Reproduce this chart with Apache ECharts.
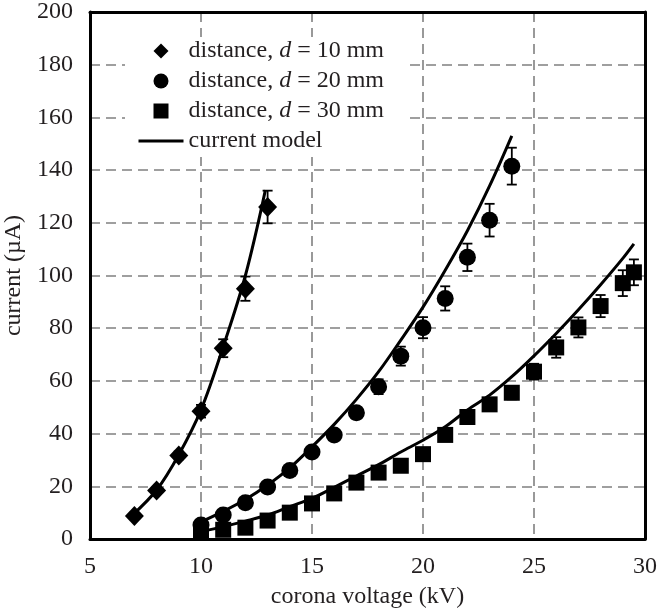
<!DOCTYPE html>
<html>
<head>
<meta charset="utf-8">
<title>corona current</title>
<script src="https://cdn.jsdelivr.net/npm/echarts@6/dist/echarts.min.js"></script>
<style>
  html, body { margin: 0; padding: 0; background: #fff; }
  #chart { width: 657px; height: 609px; }
</style>
</head>
<body>
<div id="chart"></div>
<script>
// measured points, voltage in kV, current in uA
const d10Volt = [7, 8, 9, 10, 11, 12, 13]
const d10Curr = [8.7, 18.4, 31.7, 48.5, 72.4, 95, 126]
const d10Err = [1, 1.2, 1.5, 2.4, 3.4, 4.6, 6.2]

const d20Volt = [10, 11, 12, 13, 14, 15, 16, 17, 18, 19, 20, 21, 22, 23, 24]
const d20Curr = [5.3, 9.1, 13.8, 19.7, 26, 33, 39.5, 47.9, 57.8, 69.4, 80.2, 91.3, 106.9, 121, 141.5]
const d20Err = [1, 1, 1, 1.2, 1.4, 1.6, 1.8, 2.2, 2.8, 3.6, 4, 4.6, 5.2, 6.2, 7]

const d30Volt = [10, 11, 12, 13, 14, 15, 16, 17, 18, 19, 20, 21, 22, 23, 24, 25, 26, 27, 28, 29, 29.5]
const d30Curr = [2.8, 3.5, 4.3, 7, 10, 13.5, 17.3, 21.4, 25.2, 27.8, 32.2, 39.5, 46.3, 51.1, 55.5, 63.5, 72.7, 80.3, 88.4, 97.1, 101.2]
const d30Err = [0.8, 0.8, 0.8, 0.9, 1, 1, 1.1, 1.2, 1.3, 1.4, 1.5, 1.8, 2, 2.2, 2.5, 3, 3.9, 3.8, 4.2, 4.9, 4.9]

// current model curves
const d10Model = [[6.9, 9], [8, 18.6], [9, 32], [10, 49], [11, 73], [12, 100], [12.9, 132.4]]
const d20Model = [[10, 6.5], [11, 10.5], [12, 15], [13, 20.5], [14, 27], [15, 35], [16, 43.5], [17, 53], [18, 63.5], [19, 75.5], [20, 88], [21, 102], [22, 117], [23, 134], [24, 153]]
const d30Model = [[10, 2.8], [11, 4.7], [12, 6.8], [13, 9.1], [14, 12.3], [15, 15.4], [16, 19.6], [17, 23.9], [18, 28.2], [19, 33], [20, 37.5], [21, 42.6], [22, 49], [23, 54.6], [24, 61.6], [25, 69.5], [26, 78], [27, 87], [28, 96.5], [29, 106.5], [29.5, 112]]

const xTicks = [5, 10, 15, 20, 25, 30]
const yTicks = [0, 20, 40, 60, 80, 100, 120, 140, 160, 180, 200]

const legendNames = ['distance, d = 10 mm', 'distance, d = 20 mm', 'distance, d = 30 mm', 'current model']

const FONT = '"Liberation Serif", "DejaVu Serif", serif'
const TEXT = '#231f20'

function pairs(xs, ys) {
  return xs.map((x, i) => [x, ys[i]])
}
function errRows(xs, ys, es) {
  return xs.map((x, i) => [x, ys[i] - es[i], ys[i] + es[i]])
}

// vertical error bar with caps
function renderErr(params, api) {
  const top = api.coord([api.value(0), api.value(2)])
  const bot = api.coord([api.value(0), api.value(1)])
  const half = 5
  const style = { stroke: '#000', lineWidth: 1.8 }
  return {
    type: 'group',
    children: [
      { type: 'line', shape: { x1: top[0], y1: top[1], x2: bot[0], y2: bot[1] }, style: style },
      { type: 'line', shape: { x1: top[0] - half, y1: top[1], x2: top[0] + half, y2: top[1] }, style: style },
      { type: 'line', shape: { x1: bot[0] - half, y1: bot[1], x2: bot[0] + half, y2: bot[1] }, style: style }
    ]
  }
}

function modelLine(data) {
  return {
    name: 'current model',
    type: 'line',
    data: data,
    symbol: 'none',
    smooth: 0.35,
    lineStyle: { color: '#000', width: 3 },
    itemStyle: { color: '#000' },
    z: 3
  }
}

function errSeries(rows) {
  return {
    type: 'custom',
    renderItem: renderErr,
    data: rows,
    encode: { x: 0, y: [1, 2] },
    silent: true,
    z: 4
  }
}

const chart = echarts.init(document.getElementById('chart'), null, { renderer: 'canvas' })

const axisCommon = {
  axisTick: { show: false },
  splitLine: {
    show: true,
    showMinLine: false,
    showMaxLine: false,
    lineStyle: { color: '#808080', width: 1.6, type: [10, 6] }
  }
}

// path icons so the legend keeps them square
const DIAMOND_ICON = 'path://M10,0L20,10L10,20L0,10Z'
const SQUARE_ICON = 'path://M1.5,1.5H18.5V18.5H1.5Z'

chart.setOption({
  animation: false,
  backgroundColor: '#fff',
  grid: {
    left: 90,
    right: 12,
    top: 12,
    bottom: 70,
    containLabel: false,
    outerBoundsMode: 'none'
  },
  legend: {
    data: [
      { name: legendNames[0], icon: DIAMOND_ICON },
      { name: legendNames[1], icon: 'circle' },
      { name: legendNames[2], icon: SQUARE_ICON },
      { name: legendNames[3], itemStyle: { opacity: 0 }, lineStyle: { width: 3, color: '#000' } }
    ],
    orient: 'vertical',
    left: 125,
    top: 37,
    itemWidth: 45,
    itemHeight: 15,
    itemGap: 6,
    symbolKeepAspect: true,
    padding: [2, 22, 4, 12],
    backgroundColor: '#fff',
    selectedMode: false,
    formatter: function(name) {
      const k = name.indexOf(' d ')
      if (k < 0) return '{n|' + name + '}'
      return '{n|' + name.slice(0, k + 1) + '}{i|d}{n|' + name.slice(k + 2) + '}'
    },
    textStyle: {
      fontFamily: FONT,
      fontSize: 24,
      color: TEXT,
      rich: {
        n: { fontFamily: FONT, fontSize: 24, color: TEXT, lineHeight: 24 },
        i: { fontFamily: FONT, fontSize: 24, color: TEXT, fontStyle: 'italic', lineHeight: 24 }
      }
    }
  },
  xAxis: [
    Object.assign({}, axisCommon, {
      type: 'value',
      min: xTicks[0],
      max: xTicks[xTicks.length - 1],
      interval: 5,
      name: 'corona voltage (kV)',
      nameLocation: 'middle',
      nameGap: 46,
      nameTextStyle: { fontFamily: FONT, fontSize: 24, color: TEXT },
      axisLine: { show: true, lineStyle: { color: '#000', width: 3 } },
      axisLabel: { fontFamily: FONT, fontSize: 24, color: TEXT, margin: 16, showMinLabel: true, showMaxLabel: true, hideOverlap: false }
    }),
    {
      type: 'value',
      position: 'top',
      min: xTicks[0],
      max: xTicks[xTicks.length - 1],
      interval: 5,
      axisLine: { show: true, onZero: false, lineStyle: { color: '#000', width: 3 } },
      axisTick: { show: false },
      axisLabel: { show: false },
      splitLine: { show: false }
    }
  ],
  yAxis: [
    Object.assign({}, axisCommon, {
      type: 'value',
      min: yTicks[0],
      max: yTicks[yTicks.length - 1],
      interval: 20,
      name: 'current (µA)',
      nameLocation: 'middle',
      nameGap: 64,
      nameTextStyle: { fontFamily: FONT, fontSize: 24, color: TEXT },
      axisLine: { show: true, lineStyle: { color: '#000', width: 3 } },
      axisLabel: { fontFamily: FONT, fontSize: 24, color: TEXT, margin: 17, showMinLabel: true, showMaxLabel: true, hideOverlap: false }
    }),
    {
      type: 'value',
      position: 'right',
      min: yTicks[0],
      max: yTicks[yTicks.length - 1],
      interval: 20,
      axisLine: { show: true, onZero: false, lineStyle: { color: '#000', width: 3 } },
      axisTick: { show: false },
      axisLabel: { show: false },
      splitLine: { show: false }
    }
  ],
  series: [
    modelLine(d10Model),
    modelLine(d20Model),
    modelLine(d30Model),
    errSeries(errRows(d10Volt, d10Curr, d10Err)),
    errSeries(errRows(d20Volt, d20Curr, d20Err)),
    errSeries(errRows(d30Volt, d30Curr, d30Err)),
    {
      name: legendNames[0],
      type: 'scatter',
      symbol: 'diamond',
      symbolSize: [19, 20],
      itemStyle: { color: '#000', opacity: 1 },
      data: pairs(d10Volt, d10Curr),
      z: 5
    },
    {
      name: legendNames[1],
      type: 'scatter',
      symbol: 'circle',
      symbolSize: 17,
      itemStyle: { color: '#000', opacity: 1 },
      data: pairs(d20Volt, d20Curr),
      z: 5
    },
    {
      name: legendNames[2],
      type: 'scatter',
      symbol: 'rect',
      symbolSize: 16,
      itemStyle: { color: '#000', opacity: 1 },
      data: pairs(d30Volt, d30Curr),
      z: 5
    }
  ]
})
</script>
</body>
</html>
